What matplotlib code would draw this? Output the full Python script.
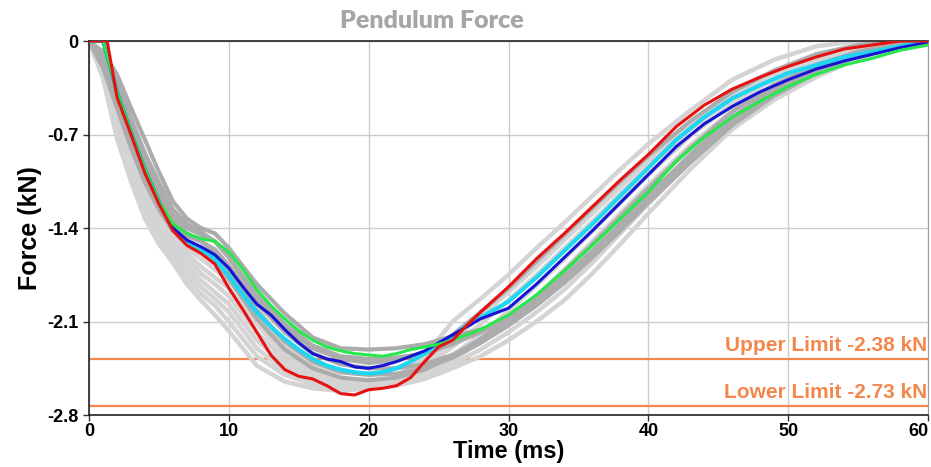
import matplotlib
matplotlib.use("Agg")
import matplotlib.pyplot as plt

# time grids (ms)
t_main = [0, 1, 2, 3, 4, 5, 6, 7, 8, 9, 10, 11, 12, 13, 14, 15, 16, 17, 18, 19, 20,
          21, 22, 23, 24, 25, 26, 27, 28, 30, 32, 34, 36, 38, 40, 42, 44, 46, 48, 50,
          52, 54, 56, 58, 60]
t_red = [0, 1.3] + t_main[2:]
t_gray = [0, 1, 2, 3, 4, 5, 6, 7, 8, 9, 10, 12, 14, 16, 18, 20, 22, 24, 26, 28, 30,
          32, 34, 36, 38, 40, 43, 46, 49, 52, 55, 58, 60]

# highlighted tests (kN)
red = [0, 0, -0.42, -0.70, -0.99, -1.22, -1.42, -1.53, -1.59, -1.67, -1.85, -2.01, -2.18,
       -2.35, -2.46, -2.51, -2.53, -2.58, -2.64, -2.65, -2.61, -2.60, -2.58, -2.52, -2.40,
       -2.29, -2.24, -2.13, -2.03, -1.84, -1.63, -1.44, -1.24, -1.04, -0.85, -0.64, -0.48,
       -0.36, -0.27, -0.19, -0.12, -0.06, -0.03, 0, 0]
blue = [0, 0, -0.38, -0.68, -0.96, -1.20, -1.40, -1.49, -1.54, -1.60, -1.70, -1.84, -1.97,
        -2.05, -2.16, -2.26, -2.34, -2.38, -2.40, -2.44, -2.45, -2.43, -2.40, -2.36, -2.32,
        -2.26, -2.20, -2.14, -2.08, -2.00, -1.82, -1.62, -1.42, -1.21, -1.00, -0.79, -0.62,
        -0.49, -0.38, -0.29, -0.21, -0.15, -0.10, -0.05, -0.01]
cyan = [0, 0, -0.38, -0.68, -0.96, -1.20, -1.40, -1.50, -1.56, -1.63, -1.76, -1.90, -2.03,
        -2.14, -2.23, -2.31, -2.38, -2.43, -2.46, -2.48, -2.49, -2.48, -2.45, -2.40, -2.34,
        -2.27, -2.21, -2.13, -2.07, -1.95, -1.77, -1.57, -1.37, -1.16, -0.95, -0.74, -0.57,
        -0.43, -0.33, -0.24, -0.18, -0.12, -0.08, -0.04, 0]
green = [0, 0, -0.38, -0.68, -0.96, -1.20, -1.37, -1.44, -1.48, -1.50, -1.58, -1.71, -1.86,
         -1.98, -2.08, -2.17, -2.24, -2.29, -2.32, -2.34, -2.35, -2.36, -2.34, -2.31, -2.29,
         -2.27, -2.24, -2.20, -2.16, -2.05, -1.90, -1.72, -1.53, -1.33, -1.13, -0.90, -0.72,
         -0.57, -0.45, -0.34, -0.25, -0.18, -0.13, -0.07, -0.03]

# other tests, light gray group
light_1 = [0, -0.28, -0.73, -1.05, -1.33, -1.52, -1.66, -1.82, -1.94, -2.05, -2.17, -2.43, -2.55,
           -2.60, -2.62, -2.60, -2.52, -2.36, -2.10, -1.93, -1.75, -1.55, -1.36, -1.16, -0.96,
           -0.77, -0.52, -0.29, -0.14, -0.04, 0, 0, 0]
light_2 = [0, -0.23, -0.63, -0.95, -1.23, -1.43, -1.58, -1.72, -1.84, -1.93, -2.03, -2.30, -2.47,
           -2.55, -2.59, -2.60, -2.58, -2.53, -2.45, -2.36, -2.24, -2.10, -1.94, -1.74, -1.52,
           -1.29, -0.96, -0.66, -0.44, -0.27, -0.13, -0.04, -0.01]
light_3 = [0, -0.19, -0.55, -0.86, -1.13, -1.35, -1.50, -1.63, -1.74, -1.82, -1.91, -2.18, -2.39,
           -2.51, -2.57, -2.57, -2.52, -2.40, -2.24, -2.06, -1.88, -1.69, -1.49, -1.29, -1.09,
           -0.90, -0.63, -0.40, -0.23, -0.10, -0.03, 0, 0]
light_4 = [0, -0.15, -0.47, -0.78, -1.05, -1.27, -1.44, -1.55, -1.63, -1.71, -1.79, -2.06, -2.30,
           -2.45, -2.54, -2.57, -2.54, -2.47, -2.35, -2.20, -2.02, -1.83, -1.63, -1.42, -1.21,
           -1.00, -0.71, -0.47, -0.28, -0.14, -0.05, -0.01, 0]
light_5 = [0, -0.13, -0.44, -0.75, -1.01, -1.23, -1.40, -1.51, -1.58, -1.65, -1.72, -2.00, -2.26,
           -2.43, -2.52, -2.56, -2.55, -2.50, -2.39, -2.25, -2.09, -1.91, -1.71, -1.50, -1.29,
           -1.08, -0.78, -0.52, -0.32, -0.17, -0.07, -0.01, 0]
light_6 = [0, -0.26, -0.68, -1.00, -1.28, -1.47, -1.62, -1.77, -1.89, -1.98, -2.10, -2.36, -2.50,
           -2.57, -2.60, -2.61, -2.57, -2.49, -2.38, -2.26, -2.12, -1.96, -1.78, -1.58, -1.37,
           -1.16, -0.86, -0.59, -0.38, -0.22, -0.09, -0.02, 0]
light_7 = [0, -0.21, -0.58, -0.90, -1.18, -1.39, -1.54, -1.68, -1.79, -1.88, -1.97, -2.24, -2.43,
           -2.53, -2.58, -2.59, -2.56, -2.50, -2.42, -2.31, -2.18, -2.03, -1.86, -1.66, -1.44,
           -1.22, -0.90, -0.62, -0.41, -0.25, -0.11, -0.03, 0]
light_8 = [0, -0.17, -0.50, -0.82, -1.09, -1.31, -1.47, -1.59, -1.69, -1.77, -1.85, -2.12, -2.35,
           -2.48, -2.55, -2.57, -2.53, -2.43, -2.29, -2.12, -1.94, -1.75, -1.55, -1.35, -1.14,
           -0.94, -0.66, -0.43, -0.25, -0.12, -0.04, 0, 0]

# other tests, darker gray group
dark_1 = [0, -0.08, -0.25, -0.50, -0.74, -0.98, -1.20, -1.33, -1.40, -1.44, -1.55, -1.82, -2.04,
          -2.22, -2.30, -2.31, -2.30, -2.27, -2.21, -2.16, -2.08, -1.95, -1.78, -1.59, -1.39,
          -1.18, -0.88, -0.60, -0.39, -0.23, -0.11, -0.04, -0.01]
dark_2 = [0, -0.12, -0.35, -0.62, -0.88, -1.10, -1.30, -1.40, -1.45, -1.50, -1.62, -1.90, -2.12,
          -2.28, -2.36, -2.38, -2.37, -2.34, -2.27, -2.18, -2.07, -1.93, -1.76, -1.57, -1.37,
          -1.16, -0.86, -0.58, -0.37, -0.21, -0.10, -0.03, 0]
dark_3 = [0, -0.18, -0.45, -0.75, -1.00, -1.20, -1.38, -1.46, -1.50, -1.56, -1.68, -1.96, -2.18,
          -2.34, -2.42, -2.45, -2.45, -2.42, -2.35, -2.25, -2.12, -1.96, -1.78, -1.58, -1.37,
          -1.16, -0.85, -0.57, -0.36, -0.20, -0.09, -0.02, 0]
dark_4 = [0, -0.15, -0.40, -0.68, -0.94, -1.16, -1.34, -1.44, -1.50, -1.58, -1.72, -2.02, -2.25,
          -2.40, -2.48, -2.50, -2.49, -2.45, -2.37, -2.26, -2.13, -1.98, -1.81, -1.62, -1.42,
          -1.21, -0.91, -0.63, -0.41, -0.24, -0.11, -0.03, 0]
dark_5 = [0, -0.20, -0.50, -0.80, -1.06, -1.26, -1.42, -1.50, -1.56, -1.64, -1.78, -2.08, -2.31,
          -2.45, -2.52, -2.54, -2.52, -2.46, -2.36, -2.23, -2.08, -1.91, -1.72, -1.52, -1.31,
          -1.10, -0.80, -0.53, -0.33, -0.18, -0.08, -0.02, 0]
dark_6 = [0, -0.10, -0.30, -0.58, -0.84, -1.06, -1.26, -1.37, -1.43, -1.50, -1.62, -1.92, -2.15,
          -2.30, -2.38, -2.41, -2.39, -2.33, -2.20, -2.03, -1.85, -1.65, -1.45, -1.25, -1.05,
          -0.86, -0.60, -0.38, -0.22, -0.10, -0.03, 0, 0]

light_curves = [light_1, light_2, light_3, light_4, light_5, light_6, light_7, light_8]
dark_curves = [dark_1, dark_2, dark_3, dark_4, dark_5, dark_6]

upper_limit = -2.38
lower_limit = -2.73
x_ticks = [0, 10, 20, 30, 40, 50, 60]
y_ticks = [0, -0.7, -1.4, -2.1, -2.8]
y_tick_labels = ["0", "-0.7", "-1.4", "-2.1", "-2.8"]

plt.rcParams['font.family'] = ['Liberation Sans', 'DejaVu Sans']
orange = '#f4874b'

fig = plt.figure(figsize=(9.31, 4.67), dpi=100)
ax = fig.add_axes([0.0956, 0.1113, 0.9012, 0.8009])

for y in light_curves:
    ax.plot(t_gray, y, color='#d4d4d4', lw=3.2, solid_capstyle='round', zorder=2)
for y in dark_curves:
    ax.plot(t_gray, y, color='#acacac', lw=3.0, solid_capstyle='round', zorder=2)

ax.plot(t_main, cyan, color='#1ed6f2', lw=3.0, zorder=3)
ax.plot(t_main, blue, color='#1414d2', lw=2.2, zorder=4)
ax.plot(t_main, green, color='#26e84c', lw=2.2, zorder=4)
ax.plot(t_red, red, color='#e81010', lw=2.2, zorder=5)

ax.axhline(upper_limit, color=orange, lw=1.6, zorder=1)
ax.axhline(lower_limit, color=orange, lw=1.6, zorder=1)
ax.annotate(f"Upper Limit {upper_limit:.2f} kN", (60, upper_limit), xytext=(-1, 3),
            textcoords='offset points', ha='right', va='bottom', color=orange,
            fontsize=15, fontweight='bold')
ax.annotate(f"Lower Limit {lower_limit:.2f} kN", (60, lower_limit), xytext=(-1, 3),
            textcoords='offset points', ha='right', va='bottom', color=orange,
            fontsize=15, fontweight='bold')

ax.set_xlim(0, 60)
ax.set_ylim(-2.8, 0)
ax.set_xticks(x_ticks)
ax.set_yticks(y_ticks)
ax.set_yticklabels(y_tick_labels)
ax.tick_params(labelsize=13, length=4, width=1, color='#333333')
ax.tick_params(axis='x', pad=2)
for lab in ax.get_xticklabels() + ax.get_yticklabels():
    lab.set_fontweight('bold')
ax.get_xticklabels()[-1].set_horizontalalignment('right')
ax.grid(True, color='#cccccc', lw=1.0, zorder=0)
ax.set_axisbelow(True)
for side in ['left', 'bottom', 'top']:
    ax.spines[side].set_color('#222222')
    ax.spines[side].set_linewidth(1.2)
ax.spines['right'].set_color('#999999')

ax.set_xlabel("Time (ms)", fontsize=17, fontweight='bold', labelpad=0)
ax.set_ylabel("Force (kN)", fontsize=18, fontweight='bold', labelpad=4)
fig.text(0.464, 0.955, "Pendulum Force", ha='center', va='center', color='#a6a6a6',
         fontsize=18, fontweight='heavy', family=['Lato', 'DejaVu Sans'])

fig.savefig("out.png", dpi=100)
